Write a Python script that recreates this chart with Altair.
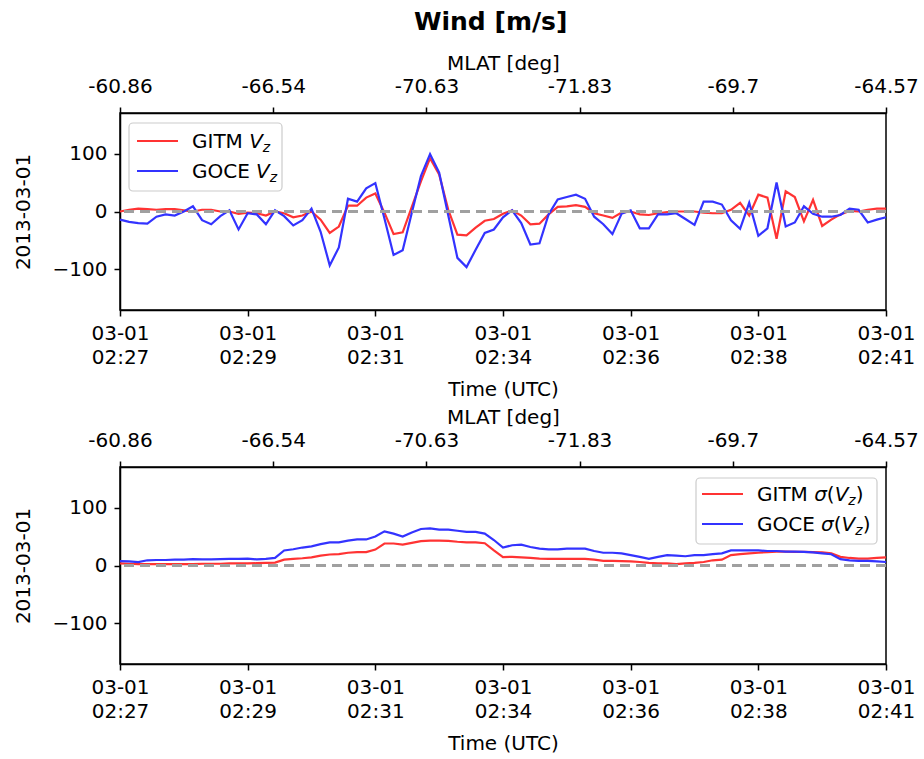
import json
import altair as alt
import pandas as pd

# ---------------- data ----------------
step_s = 10  # sampling interval of the series, seconds after 02:27:00
gitm_vz = [0, 3, 5, 4, 3, 4, 4, 2, 0, 3, 3, 0, 0, -4, -2, -3, -7, 0, -3, -10,
           -7, 0, -14, -37, -26, 10, 10, 24, 31, -2, -39, -36, 8, 52, 92, 64, 3, -40, -41, -28,
           -16, -13, -4, 2, -7, -22, -21, -5, 8, 9, 11, 8, -3, -7, -11, -2, 0, -5, -6, -3,
           -1, 0, 0, 0, -2, -3, -3, 3, 15, -7, 29, 24, -47, 35, 25, -17, 20, -25, -14, -5,
           1, 0, 3, 5, 5]
goce_vz = [-14, -18, -20, -21, -9, -5, -7, 0, 9, -15, -22, -8, 2, -31, -3, -5, -22, 2, -8, -24,
           -15, 5, -35, -93, -62, 22, 17, 40, 49, -12, -75, -67, -2, 61, 99, 67, -7, -80, -96, -66,
           -37, -31, -10, 2, -20, -57, -55, -5, 21, 25, 29, 22, -9, -22, -39, -4, 2, -29, -29, -5,
           -5, -3, -13, -23, 17, 17, 12, -15, -30, 15, -42, -29, 50, -26, -19, 9, -4, -9, -9, -6,
           5, 3, -19, -14, -10]
gitm_sig = [3.5, 3, 2.5, 2.5, 2.5, 2.5, 2.5, 2.5, 2.5, 3, 3, 3, 3.5, 3.5, 3.5, 4, 4.5, 5, 10, 11.5,
            12.5, 14, 17, 19, 19.5, 22, 23, 23, 27.5, 38, 38, 36, 39, 42, 43, 43, 42.5, 41, 40, 40,
            38.5, 26, 14.5, 15, 14, 13, 12, 11.5, 11.5, 11.5, 11.5, 11.5, 10, 8, 8, 7.5, 7, 6, 4.5, 3.5,
            3.5, 2.5, 3.5, 4.5, 6, 9, 10, 18, 19.5, 21, 22, 23, 24, 24, 23.5, 23.5, 23, 22.5, 21, 15,
            13, 12, 12, 13, 14]
goce_sig = [7.5, 7, 6, 9, 9.5, 9.5, 10, 10, 11, 10.5, 10.5, 11, 11.5, 11.5, 12, 10.5, 11.5, 13, 26, 28,
            31, 33, 37, 40, 40, 43, 45, 45, 50, 59, 55, 50, 57, 63, 64, 62, 62, 60, 58, 58,
            55, 44, 31, 35, 36, 32, 29, 28, 28, 29, 29, 29, 25, 22, 22, 21, 18, 15, 11.5, 15,
            18, 17, 16, 18, 18, 19.5, 21, 26, 26, 26, 26, 25, 25, 24, 24, 23.5, 22.5, 21, 19.5, 11,
            9, 8, 8, 7, 6]

time_tick_seconds = [0, 140, 280, 420, 560, 700, 840]
time_tick_dates = ["03-01", "03-01", "03-01", "03-01", "03-01", "03-01", "03-01"]
time_tick_times = ["02:27", "02:29", "02:31", "02:34", "02:36", "02:38", "02:41"]
mlat_tick_seconds = [0, 168, 336, 504, 672, 840]
mlat_tick_labels = ["-60.86", "-66.54", "-70.63", "-71.83", "-69.7", "-64.57"]

series_names = ["GITM", "GOCE"]
series_colors = ["#ff3333", "#3333ff"]

FONT = "DejaVu Sans"
FS = 20
W, H = 766, 197

# DejaVu Sans advance widths (units per 2048 em) for legend text layout
ADV = {"G": 1577, "I": 604, "T": 1251, "M": 1767, "O": 1612, "C": 1430, "E": 1294,
       " ": 651, "V": 1401, "z": 1075, "σ": 1300, "(": 799, ")": 799}


def text_width(s, size):
    return sum(ADV.get(ch, 1200) for ch in s) / 2048.0 * size


one_row = alt.Data(values=[{"k": 0}])


def legend_layers(box, rows):
    """box = (x0, y0, x1, y1) in plot pixels; rows = list of (color, line_y, text_x, pieces)."""
    layers = [
        alt.Chart(one_row).mark_rect(fill="white", fillOpacity=0.85, stroke="#cccccc",
                                     strokeWidth=1.2, cornerRadius=4)
        .encode(x=alt.value(box[0]), x2=alt.value(box[2]), y=alt.value(box[1]), y2=alt.value(box[3]))
    ]
    for color, ly, tx, pieces in rows:
        layers.append(
            alt.Chart(one_row).mark_rule(color=color, strokeWidth=2.2)
            .encode(x=alt.value(tx - 55), x2=alt.value(tx - 14), y=alt.value(ly))
        )
        x = tx
        for txt, italic, sub in pieces:
            size = FS * 0.7 if sub else FS
            base = ly + 7 + (4 if sub else 0)
            layers.append(
                alt.Chart(one_row).mark_text(align="left", baseline="alphabetic", font=FONT,
                                             fontSize=size, fontStyle="italic" if italic else "normal",
                                             color="black")
                .encode(x=alt.value(x), y=alt.value(base), text=alt.value(txt))
            )
            x += text_width(txt, size)
    return layers


def long_df(a, b):
    rows = []
    for name, vals in zip(series_names, [a, b]):
        for i, v in enumerate(vals):
            rows.append({"t": i * step_s, "v": v, "series": name})
    return pd.DataFrame(rows)


xscale = alt.Scale(domain=[0, 840], nice=False, zero=False)
yscale = alt.Scale(domain=[-170, 170], nice=False)

bottom_label_expr = (
    f"[{json.dumps(time_tick_dates)}[indexof({json.dumps(time_tick_seconds)}, datum.value)], "
    f"{json.dumps(time_tick_times)}[indexof({json.dumps(time_tick_seconds)}, datum.value)]]"
)
top_label_expr = (
    f"{json.dumps(mlat_tick_labels)}[indexof({json.dumps(mlat_tick_seconds)}, datum.value)]"
)


def panel(df, legend):
    base = alt.Chart(df)
    lines = base.mark_line(strokeWidth=2.2).encode(
        x=alt.X("t:Q", scale=xscale,
                axis=alt.Axis(orient="bottom", values=time_tick_seconds, labelExpr=bottom_label_expr,
                              title="Time (UTC)", grid=False, labelLineHeight=24, labelPadding=7,
                              titlePadding=12, labelFlush=False, labelOverlap=False)),
        y=alt.Y("v:Q", scale=yscale,
                axis=alt.Axis(values=[-100, 0, 100], title="2013-03-01", grid=False,
                              labelPadding=7, titlePadding=19)),
        color=alt.Color("series:N", scale=alt.Scale(domain=series_names, range=series_colors),
                        legend=None),
        detail="series:N",
    )
    top = base.mark_rule(opacity=0).encode(
        x=alt.X("t:Q", scale=xscale,
                axis=alt.Axis(orient="top", values=mlat_tick_seconds, labelExpr=top_label_expr,
                              title="MLAT [deg]", grid=False, labelPadding=11, titlePadding=3,
                              labelFlush=False, labelOverlap=False)),
    )
    zero = alt.Chart(pd.DataFrame({"v": [0]})).mark_rule(
        color="#a0a0a0", strokeWidth=3, strokeDash=[10, 6]
    ).encode(y=alt.Y("v:Q", scale=yscale))
    return alt.layer(lines, top, zero, *legend).resolve_axis(x="independent").properties(
        width=W, height=H)


top_legend = legend_layers(
    (9, 10, 162, 78),
    [("#ff3333", 28, 72, [("GITM ", False, False), ("V", True, False), ("z", True, True)]),
     ("#3333ff", 58, 72, [("GOCE ", False, False), ("V", True, False), ("z", True, True)])],
)
bottom_legend = legend_layers(
    (576, 11, 757, 77),
    [("#ff3333", 27, 637, [("GITM ", False, False), ("σ", True, False), ("(", False, False),
                           ("V", True, False), ("z", True, True), (")", False, False)]),
     ("#3333ff", 57, 637, [("GOCE ", False, False), ("σ", True, False), ("(", False, False),
                           ("V", True, False), ("z", True, True), (")", False, False)])],
)

p1 = panel(long_df(gitm_vz, goce_vz), top_legend)
p2 = panel(long_df(gitm_sig, goce_sig), bottom_legend)

chart = alt.vconcat(p1, p2, spacing=6).properties(
    title=alt.TitleParams("Wind [m/s]", font=FONT, fontSize=25, fontWeight="bold",
                          anchor="middle", color="black", offset=17, dx=25),
    padding={"left": 12, "top": 10, "right": 2, "bottom": 5},
).configure_axis(
    labelFont=FONT, labelFontSize=FS, titleFont=FONT, titleFontSize=FS, titleFontWeight="normal",
    labelColor="black", titleColor="black", tickColor="black", domainColor="black",
    tickSize=6, tickWidth=1.5, domainWidth=1.5,
).configure_view(stroke="black", strokeWidth=1.5)

chart.save("out.html", embed_options={"renderer": "svg", "actions": False})
